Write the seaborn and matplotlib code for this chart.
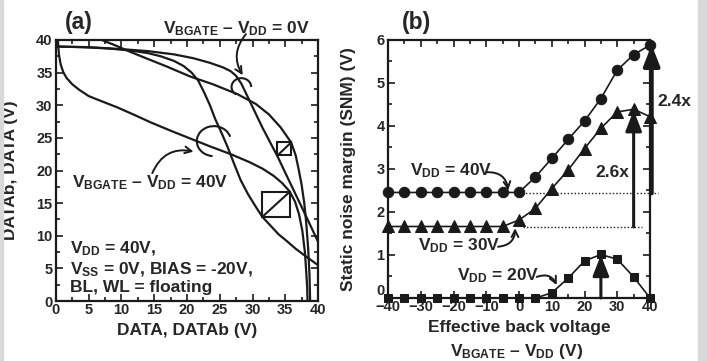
import numpy as np
import pandas as pd
import matplotlib
matplotlib.use("Agg")
import matplotlib.pyplot as plt
import seaborn as sns
from matplotlib.patches import Arc, Rectangle

# ---- (a) butterfly curves, DATA / DATAb (V)
w40_x = [0.3, 0.35, 0.45, 0.7, 1.1, 1.6, 2.5, 3.5, 5.0, 7.0, 9.3, 12.0, 14.4, 17.5, 20.5, 23.5,
         26.7, 29.5, 31.5, 33.2, 34.5, 35.7, 36.5, 37.1, 37.6, 38.0, 38.2, 38.35, 38.4]
w40_y = [40, 39, 37.8, 36.3, 35.1, 34.2, 33.2, 32.4, 31.4, 30.6, 29.7, 28.5, 27.4, 26.1, 24.9, 23.7,
         22.5, 21.3, 20.3, 19.2, 18.1, 16.75, 15.2, 13.3, 10.8, 7.5, 4.5, 2.0, 0]
x40_x = [0, 4, 8, 11.3, 14, 16, 18, 19.5, 20.7, 21.7, 22.6, 23.5, 24.3, 25.3, 26.2, 27.2, 28.2,
         29.3, 30.4, 31.5, 32.8, 34.0, 35.1, 36.6, 38.2, 40]
x40_y = [39, 38.9, 38.7, 38.4, 38.0, 37.5, 36.8, 36.0, 35.0, 33.8, 32.0, 30.0, 27.9, 25.7, 23.6, 21.0,
         18.5, 16.4, 14.6, 12.9, 11.5, 10.2, 9.3, 8.0, 6.8, 5.5]
y0_x = [7, 9, 11.3, 14, 17, 20.5, 24, 27.7, 30.5, 32.5, 34.3, 35.9, 36.6, 37.1, 37.5, 37.9, 38.2,
        38.5, 38.7, 38.8]
y0_y = [40, 39.2, 38.2, 37.1, 35.9, 34.4, 33.2, 31.7, 30.2, 28.6, 26.6, 24.3, 22.3, 19.9, 17.8, 15.0,
        12.0, 8.0, 4.0, 0]
z0_x = [0, 5, 10, 14, 18, 21, 23.5, 25.5, 26.7, 27.5, 28.3, 29.5, 31.5, 33.8, 35.6, 37.7, 40]
z0_y = [39, 38.9, 38.6, 38.3, 37.8, 37.2, 36.5, 35.8, 35.2, 34.5, 33.3, 30.8, 26.6, 22.2, 18.4, 14.0, 9.1]

# ---- (b) SNM vs effective back voltage
back_v = [-40, -35, -30, -25, -20, -15, -10, -5, 0, 5, 10, 15, 20, 25, 30, 35, 40]
snm_40 = [2.45, 2.45, 2.45, 2.45, 2.45, 2.45, 2.45, 2.45, 2.45, 2.81, 3.24, 3.68, 4.11, 4.63, 5.29, 5.65, 5.87]
snm_30 = [1.66, 1.66, 1.66, 1.66, 1.66, 1.66, 1.66, 1.66, 1.81, 2.08, 2.54, 2.97, 3.47, 3.94, 4.32, 4.38, 4.21]
snm_20 = [0, 0, 0, 0, 0, 0, 0, 0, 0, 0, 0.12, 0.46, 0.86, 1.01, 0.90, 0.49, 0.0]

sns.set_theme(style="ticks")
plt.rcParams['font.family'] = ['Liberation Sans', 'DejaVu Sans']
plt.rcParams['font.weight'] = 'bold'
plt.rcParams['axes.labelweight'] = 'bold'
plt.rcParams['mathtext.fontset'] = 'custom'
plt.rcParams['mathtext.rm'] = 'Liberation Sans:bold'
plt.rcParams['mathtext.bf'] = 'Liberation Sans:bold'
plt.rcParams['mathtext.it'] = 'Liberation Sans:bold'
plt.rcParams['mathtext.default'] = 'bf'

FS = 12.5
fig = plt.figure(figsize=(7.07, 3.61), dpi=100)
fig.patches.append(Rectangle((0, 0), 3 / 707, 1, transform=fig.transFigure, color='#d9d9d9', zorder=0))
fig.patches.append(Rectangle((698 / 707, 0), 9 / 707, 1, transform=fig.transFigure, color='#d9d9d9', zorder=0))

ax1 = fig.add_axes([0.0792, 0.1662, 0.3706, 0.723])
ax2 = fig.add_axes([0.5488, 0.1745, 0.3706, 0.716])

for ax in (ax1, ax2):
    for s in ax.spines.values():
        s.set_linewidth(1.6)
        s.set_color('k')
    ax.tick_params(which='both', direction='in', top=True, right=True, width=1.2, color='k',
                   labelsize=10.5)
    ax.tick_params(axis='x', pad=1.5)
    ax.tick_params(axis='y', pad=2.5)
    ax.tick_params(which='major', length=5)
    ax.tick_params(which='minor', length=3)

# ---- panel (a)
for cx, cy in [(w40_x, w40_y), (x40_x, x40_y), (y0_x, y0_y), (z0_x, z0_y)]:
    sns.lineplot(x=cx, y=cy, sort=False, estimator=None, color='k', lw=1.6, ax=ax1)

ax1.set_xlim(0, 40)
ax1.set_ylim(0, 40)
ax1.set_xticks(np.arange(0, 41, 5))
ax1.set_yticks(np.arange(0, 41, 5))
ax1.set_xticks(np.arange(0, 41, 2.5), minor=True)
ax1.set_yticks(np.arange(0, 41, 2.5), minor=True)
ax1.set_xlabel("DATA, DATAb (V)", fontsize=FS, fontweight='bold')
ax1.set_ylabel("DATAb, DATA (V)", fontsize=FS, fontweight='bold')
ax1.xaxis.set_label_coords(0.5, -0.085)
ax1.yaxis.set_label_coords(-0.145, 0.5)

# SNM squares
ax1.add_patch(Rectangle((33.8, 22.3), 2.1, 2.0, fill=False, lw=1.5, ec='k'))
ax1.plot([33.8, 35.9], [22.3, 24.3], color='k', lw=1.5)
ax1.add_patch(Rectangle((31.5, 12.9), 4.2, 3.85, fill=False, lw=1.5, ec='k'))
ax1.plot([31.5, 35.7], [12.9, 16.75], color='k', lw=1.5)

# loops marking curve pairs
ax1.add_patch(Arc((28.3, 32.8), 3.0, 2.7, theta1=0, theta2=235, lw=1.5, color='k'))
ax1.add_patch(Arc((24.1, 24.5), 5.2, 4.6, theta1=15, theta2=265, lw=1.5, color='k'))

ax1.text(16.4, 41.0, r"V$_{BGATE}$ – V$_{DD}$ = 0V", fontsize=FS, fontweight='bold',
         ha='left', va='baseline', clip_on=False)
ax1.annotate("", xy=(28.5, 34.6), xytext=(29.0, 40.9),
             arrowprops=dict(arrowstyle='->', lw=1.4, color='k', connectionstyle='arc3,rad=0.35',
                             shrinkA=0, shrinkB=0))
ax1.text(2.4, 17.5, r"V$_{BGATE}$ – V$_{DD}$ = 40V", fontsize=FS, fontweight='bold',
         ha='left', va='baseline')
ax1.annotate("", xy=(21.0, 22.9), xytext=(14.7, 19.6),
             arrowprops=dict(arrowstyle='->', lw=1.4, color='k', connectionstyle='arc3,rad=-0.4',
                             shrinkA=0, shrinkB=0))
ax1.text(2.15, 7.3, r"V$_{DD}$ = 40V,", fontsize=FS, fontweight='bold', ha='left', va='baseline')
ax1.text(2.15, 4.1, r"V$_{SS}$ = 0V, BIAS = -20V,", fontsize=FS, fontweight='bold', ha='left', va='baseline')
ax1.text(2.15, 1.4, "BL, WL = floating", fontsize=FS, fontweight='bold', ha='left', va='baseline')

# ---- panel (b)
sns.lineplot(x=back_v, y=snm_40, marker='o', markersize=7.5, color='k', lw=1.2,
             markeredgecolor='k', ax=ax2, clip_on=False, zorder=4)
sns.lineplot(x=back_v, y=snm_30, marker='^', markersize=8, color='k', lw=1.2,
             markeredgecolor='k', ax=ax2, clip_on=False, zorder=4)
sns.lineplot(x=back_v, y=snm_20, marker='s', markersize=6, color='k', lw=1.2,
             markeredgecolor='k', ax=ax2, clip_on=False, zorder=4)

ax2.set_xlim(-40, 40)
ax2.set_ylim(0, 6)
ax2.set_xticks(np.arange(-40, 41, 10))
ax2.set_xticks(np.arange(-40, 41, 5), minor=True)
ax2.set_yticks(np.arange(0, 7, 1))
ax2.set_yticks(np.arange(0, 6.1, 0.5), minor=True)
ax2.set_xlabel("Effective back voltage", fontsize=FS, fontweight='bold')
ax2.xaxis.set_label_coords(0.5, -0.085)
ax2.text(0.49, -0.225, r"V$_{BGATE}$ – V$_{DD}$ (V)", transform=ax2.transAxes, fontsize=FS,
         fontweight='bold', ha='center', va='baseline')
ax2.set_ylabel("Static noise margin (SNM) (V)", fontsize=FS, fontweight='bold')
ax2.yaxis.set_label_coords(-0.122, 0.5)

# bottom-left "0" sits a bit higher so it clears the "-40" below it
ax2.get_yticklabels()[0].set_verticalalignment('bottom')

# dotted reference levels
ax2.plot([1.0, 42.5], [2.43, 2.43], ls=(0, (1, 1.5)), color='k', lw=1.0, clip_on=False)
ax2.plot([1.2, 37.6], [1.65, 1.65], ls=(0, (1, 1.5)), color='k', lw=1.0, clip_on=False)

# vertical arrows
ax2.annotate("", xy=(35, 4.36), xytext=(35, 1.65),
             arrowprops=dict(arrowstyle='-|>,head_width=0.35,head_length=0.9', lw=2.2, color='k',
                             shrinkA=0, shrinkB=0, mutation_scale=14), annotation_clip=False)
ax2.annotate("", xy=(40.5, 5.88), xytext=(40.5, 2.43),
             arrowprops=dict(arrowstyle='-|>,head_width=0.35,head_length=0.9', lw=3.0, color='k',
                             shrinkA=0, shrinkB=0, mutation_scale=14), annotation_clip=False)
ax2.annotate("", xy=(25, 1.0), xytext=(25, 0),
             arrowprops=dict(arrowstyle='-|>,head_width=0.35,head_length=0.9', lw=2.2, color='k',
                             shrinkA=0, shrinkB=0, mutation_scale=14), annotation_clip=False)

ax2.text(23.2, 2.81, "2.6x", fontsize=FS, fontweight='bold', ha='left', va='baseline')
ax2.text(42.3, 4.45, "2.4x", fontsize=FS, fontweight='bold', ha='left', va='baseline', clip_on=False)

ax2.text(-33.3, 2.85, r"V$_{DD}$ = 40V", fontsize=FS, fontweight='bold', ha='left', va='baseline')
ax2.annotate("", xy=(-3.3, 2.5), xytext=(-9.9, 2.92),
             arrowprops=dict(arrowstyle='->', lw=1.4, color='k', connectionstyle='arc3,rad=-0.45',
                             shrinkA=0, shrinkB=0))
ax2.text(-30.7, 1.11, r"V$_{DD}$ = 30V", fontsize=FS, fontweight='bold', ha='left', va='baseline')
ax2.annotate("", xy=(-1.2, 1.62), xytext=(-6.4, 1.19),
             arrowprops=dict(arrowstyle='->', lw=1.4, color='k', connectionstyle='arc3,rad=0.45',
                             shrinkA=0, shrinkB=0))
ax2.text(-19.0, 0.42, r"V$_{DD}$ = 20V", fontsize=FS, fontweight='bold', ha='left', va='baseline')
ax2.annotate("", xy=(11.5, 0.3), xytext=(5.4, 0.49),
             arrowprops=dict(arrowstyle='->', lw=1.4, color='k', connectionstyle='arc3,rad=-0.45',
                             shrinkA=0, shrinkB=0))

fig.text(65 / 707, 0.921, "(a)", fontsize=16.5, fontweight='bold', ha='left', va='baseline')
fig.text(401.7 / 707, 0.921, "(b)", fontsize=16.5, fontweight='bold', ha='left', va='baseline')

fig.savefig("out.png", dpi=100)
